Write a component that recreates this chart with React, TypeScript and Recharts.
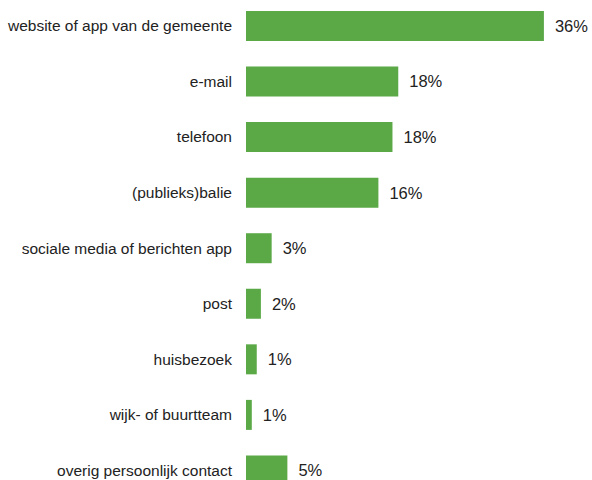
import { Bar, BarChart, LabelList, XAxis, YAxis } from 'recharts';

const categories = [
  'website of app van de gemeente',
  'e-mail',
  'telefoon',
  '(publieks)balie',
  'sociale media of berichten app',
  'post',
  'huisbezoek',
  'wijk- of buurtteam',
  'overig persoonlijk contact',
];

// bar lengths, labels are the rounded figures shown
const values = [36, 18.4, 17.7, 16, 3.1, 1.8, 1.3, 0.7, 5];
const labels = ['36%', '18%', '18%', '16%', '3%', '2%', '1%', '1%', '5%'];

const data = categories.map((name, i) => ({ name, value: values[i], label: labels[i] }));

const font = 'Arial, "Liberation Sans", sans-serif';

const App = () => (
  <div style={{ position: 'absolute', left: 0, top: -2, width: 592, height: 500, background: '#fff' }}>
    <BarChart
      width={592}
      height={500}
      data={data}
      layout="vertical"
      margin={{ top: 0, right: 15, bottom: 0, left: 0 }}
      barSize={30}
    >
      <XAxis type="number" domain={[0, 40]} hide allowDataOverflow />
      <YAxis
        type="category"
        dataKey="name"
        width={246}
        axisLine={false}
        tickLine={false}
        tickSize={0}
        tickMargin={14}
        interval={0}
        tick={{ fill: '#222', fontSize: 15.5, fontFamily: font }}
      />
      <Bar dataKey="value" fill="#5aa846" isAnimationActive={false}>
        <LabelList
          dataKey="label"
          position="right"
          offset={11}
          fill="#222"
          fontSize={16.5}
          fontFamily={font}
        />
      </Bar>
    </BarChart>
  </div>
);

export default App;
